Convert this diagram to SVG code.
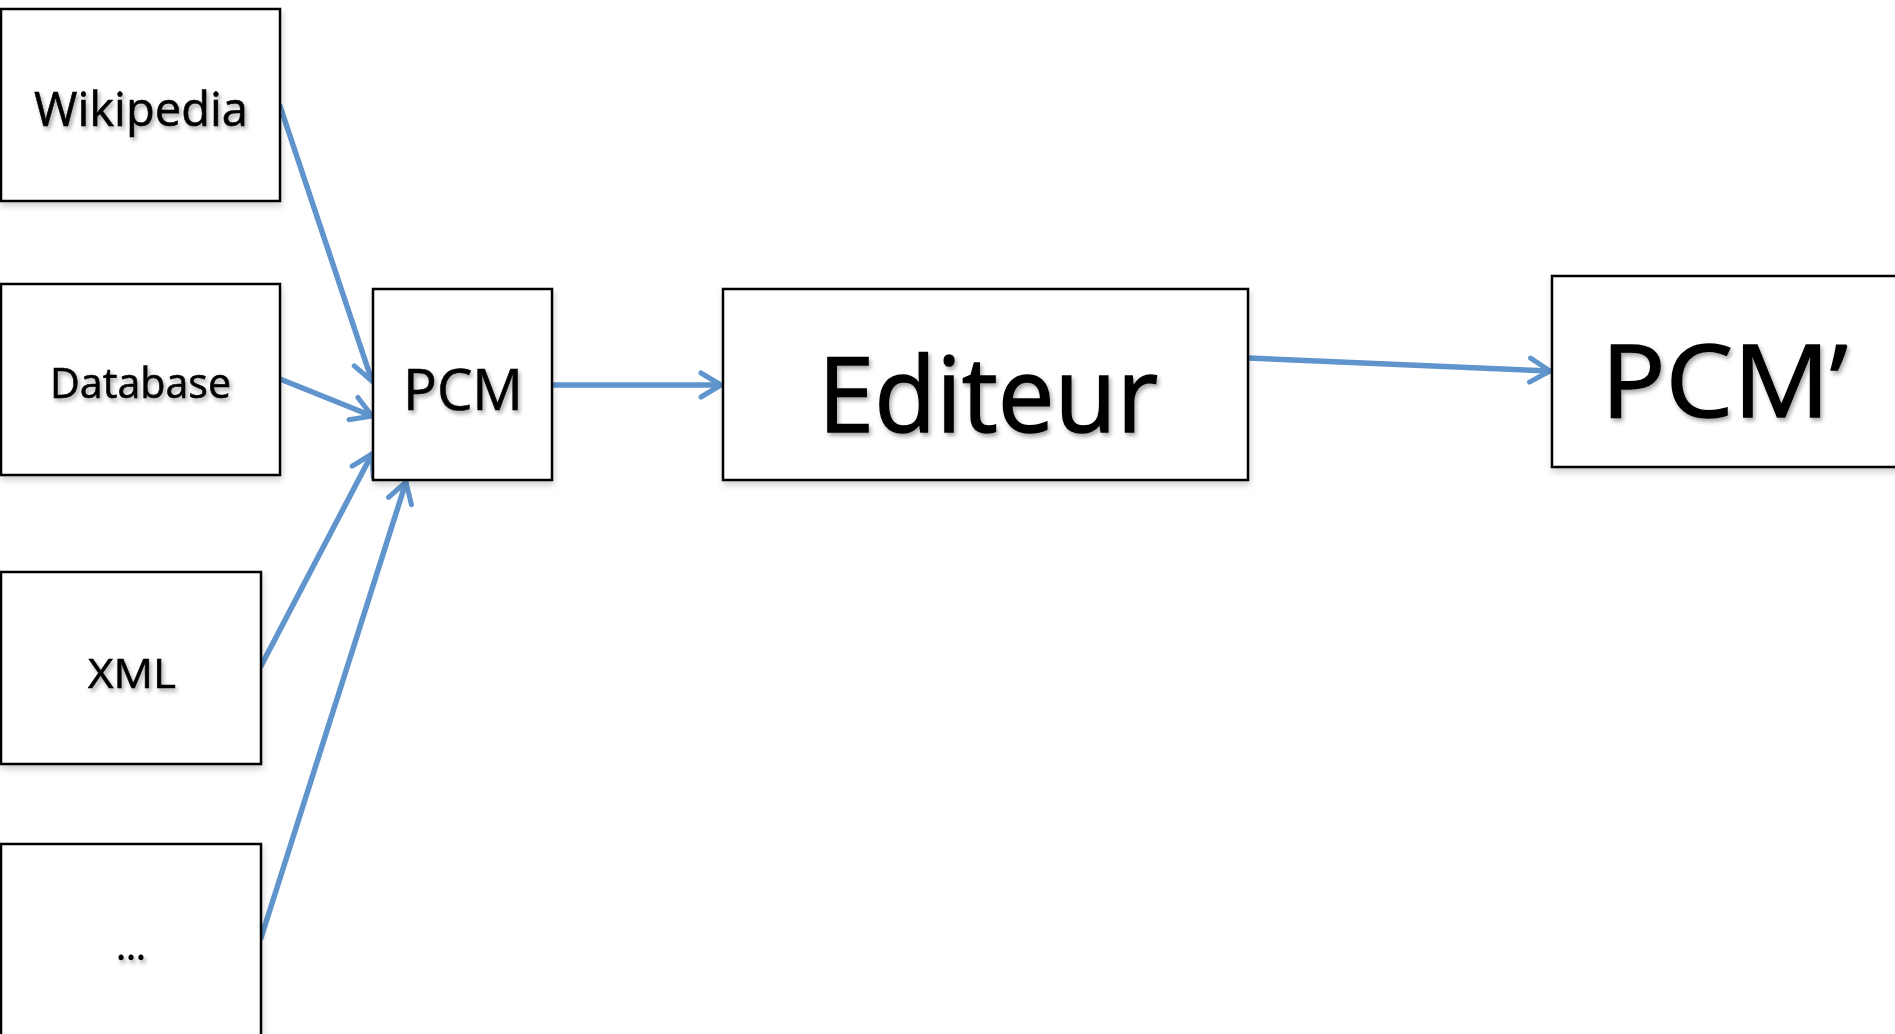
<svg xmlns="http://www.w3.org/2000/svg" width="1895" height="1034" viewBox="0 0 1895 1034">
  <style>
    .box { fill: #ffffff; stroke: #000000; stroke-width: 2.5; filter: url(#boxShadow); }
    .lbl { font-family: "Open Sans", "Liberation Sans", sans-serif; fill: #000000; stroke: #000000; stroke-width: 0.6; filter: url(#txtShadow); }
    .big { stroke-width: 1.4; }
    .conn { stroke: #6094CC; stroke-width: 5.5; fill: none; stroke-linecap: round; marker-end: url(#arrow); }
  </style>
  <defs>
    <filter id="boxShadow" x="-10%" y="-10%" width="130%" height="130%">
      <feDropShadow dx="1" dy="4" stdDeviation="3" flood-color="#000" flood-opacity="0.18"/>
    </filter>
    <filter id="txtShadow" x="-10%" y="-20%" width="130%" height="150%">
      <feDropShadow dx="2" dy="3" stdDeviation="2" flood-color="#000" flood-opacity="0.35"/>
    </filter>
    <marker id="arrow" viewBox="0 0 26 30" refX="23" refY="15" markerWidth="26" markerHeight="30" markerUnits="userSpaceOnUse" orient="auto">
      <path d="M3,3 L23,15 L3,27" fill="none" stroke="#6094CC" stroke-width="5" stroke-linecap="round" stroke-linejoin="round"/>
    </marker>
  </defs>
  <rect width="1895" height="1034" fill="#ffffff"/>

  <g id="connectors">
    <line class="conn" x1="280" y1="106" x2="372" y2="381"/>
    <line class="conn" x1="280" y1="379" x2="372" y2="416"/>
    <line class="conn" x1="261" y1="666" x2="372" y2="454"/>
    <line class="conn" x1="261" y1="938" x2="406" y2="482"/>
    <line class="conn" x1="552" y1="385" x2="721" y2="385"/>
    <line class="conn" x1="1248" y1="358" x2="1550" y2="371"/>
  </g>

  <g id="node-wikipedia">
    <rect class="box" x="1" y="9" width="279" height="192"/>
    <text class="lbl" x="34" y="126" font-size="47" textLength="214" lengthAdjust="spacingAndGlyphs">Wikipedia</text>
  </g>
  <g id="node-database">
    <rect class="box" x="1" y="284" width="279" height="191"/>
    <text class="lbl" x="50" y="398" font-size="42" textLength="181" lengthAdjust="spacingAndGlyphs">Database</text>
  </g>
  <g id="node-xml">
    <rect class="box" x="1" y="572" width="260" height="192"/>
    <text class="lbl" x="88" y="688" font-size="41" textLength="88" lengthAdjust="spacingAndGlyphs">XML</text>
  </g>
  <g id="node-more">
    <rect class="box" x="1" y="844" width="260" height="210"/>
    <text class="lbl" x="116" y="960" font-size="41" textLength="30" lengthAdjust="spacingAndGlyphs">…</text>
  </g>
  <g id="node-pcm">
    <rect class="box" x="373" y="289" width="179" height="191"/>
    <text class="lbl" x="403" y="410" font-size="56" textLength="120" lengthAdjust="spacingAndGlyphs">PCM</text>
  </g>
  <g id="node-editeur">
    <rect class="box" x="723" y="289" width="525" height="191"/>
    <text class="lbl big" x="818" y="432" font-size="105" textLength="340" lengthAdjust="spacingAndGlyphs">Editeur</text>
  </g>
  <g id="node-pcm-prime">
    <rect class="box" x="1552" y="276" width="360" height="191"/>
    <text class="lbl big" x="1601" y="417" font-size="101" textLength="247" lengthAdjust="spacingAndGlyphs">PCM’</text>
  </g>
</svg>
